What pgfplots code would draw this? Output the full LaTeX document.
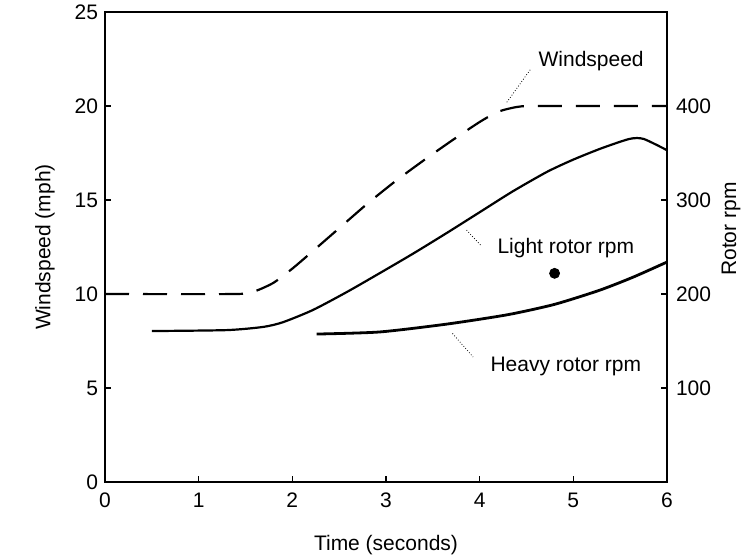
\documentclass[border=0pt]{standalone}
\usepackage{fontspec}
\setmainfont{Liberation Sans}
\usepackage{pgfplots}
\pgfplotsset{compat=1.18}

\begin{document}
\begin{tikzpicture}[font=\fontsize{10.5}{12}\selectfont]
\pgfplotsset{
  every axis/.append style={
    scale only axis, width=281pt, height=235pt,
    at={(52.5pt,38.5pt)}, anchor=south west,
    axis line style={line width=0.7pt},
    tick style={black, line width=0.7pt},
    tick align=inside, major tick length=3pt,
    /pgf/number format/assume math mode=true,
    tick label style={font=\fontsize{10.5}{12}\selectfont},
  }
}
% windspeed axis (left)
\begin{axis}[
  xmin=0, xmax=6, ymin=0, ymax=25,
  xtick={0,1,2,3,4,5,6}, ytick={0,5,10,15,20,25},
  xtick pos=bottom, ytick pos=left,
  xticklabel style={yshift=-2pt},
  clip=false,
]
% windspeed
\addplot[black, line width=1.1pt, dash pattern=on 12pt off 7pt, smooth, tension=0.4] coordinates {
  (0,10) (1.4,10) (1.6,10.15) (1.8,10.6) (2.0,11.35) (2.2,12.2) (2.5,13.5)
  (2.8,14.8) (3.1,16.0) (3.4,17.1) (3.7,18.15) (4.0,19.15) (4.2,19.7)
  (4.4,19.95) (4.6,20) (6,20)
};
% light rotor rpm (in mph units: rpm/20)
\addplot[black, line width=1.1pt, smooth, tension=0.4] coordinates {
  (0.5,8.03) (1.3,8.08) (1.69,8.25) (1.9,8.5) (2.22,9.15) (2.58,10.1)
  (2.93,11.1) (3.29,12.15) (3.65,13.25) (4.0,14.35) (4.35,15.45) (4.72,16.5)
  (5.0,17.15) (5.3,17.75) (5.6,18.25) (5.75,18.25) (6,17.65)
};
% heavy rotor rpm
\addplot[black, line width=1.4pt, smooth, tension=0.4] coordinates {
  (2.26,7.87) (2.93,7.98) (3.65,8.4) (4.3,8.9) (4.8,9.45) (5.28,10.2)
  (5.64,10.9) (6,11.7)
};
\addplot[only marks, mark=*, mark size=2.5pt, black] coordinates {(4.80,11.1)};

\node at (axis cs:5.19,22.4) {Windspeed};
\node at (axis cs:4.92,12.45) {Light rotor rpm};
\node at (axis cs:4.92,6.17) {Heavy rotor rpm};
\draw[densely dotted, line width=0.4pt] (axis cs:4.29,20.2) -- (axis cs:4.55,22.0);
\draw[densely dotted, line width=0.4pt] (axis cs:3.86,13.4) -- (axis cs:4.01,12.6);
\draw[densely dotted, line width=0.4pt] (axis cs:3.71,7.9) -- (axis cs:3.93,6.65);
\end{axis}
% rotor rpm axis (right)
\begin{axis}[
  xmin=0, xmax=6, ymin=0, ymax=500,
  axis x line=none, axis y line*=right,
  ytick={100,200,300,400},
  yticklabel style={xshift=1pt},
]
\end{axis}
\node at (193pt,7pt) {Time (seconds)};
\node[rotate=90] at (22.5pt,156pt) {Windspeed (mph)};
\node[rotate=90, inner sep=1pt] at (365.5pt,165pt) {Rotor rpm};
\pgfresetboundingbox
\path[use as bounding box] (0,0) rectangle (372.5pt,279.5pt);
\end{tikzpicture}
\end{document}
